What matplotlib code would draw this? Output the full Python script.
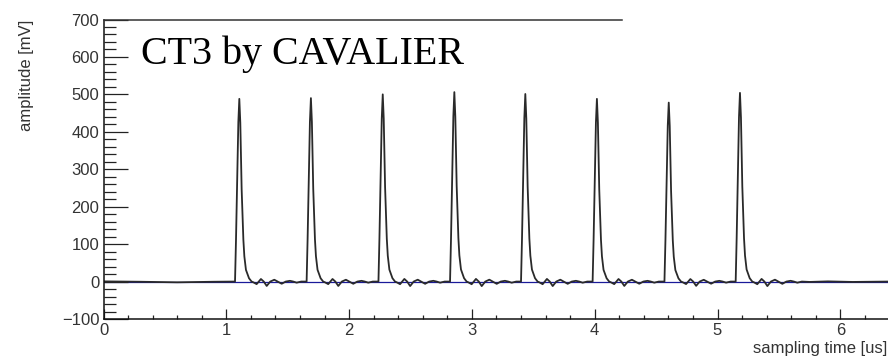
import numpy as np
import matplotlib
matplotlib.use("Agg")
import matplotlib.pyplot as plt
from matplotlib.ticker import MultipleLocator

# ---- data ----
pulse_times = [1.106, 1.689, 2.274, 2.857, 3.435, 4.018, 4.603, 5.183]   # us
pulse_peaks = [488, 490, 500, 506, 501, 488, 478, 504]                  # mV

# pulse shape (offset from peak in us, fraction of peak amplitude)
shape_offset = [-0.035, -0.027, -0.019, -0.008, 0.0, 0.008, 0.019, 0.033, 0.041,
                0.054, 0.079, 0.100, 0.114, 0.141, 0.159, 0.176, 0.199, 0.223,
                0.252, 0.285, 0.313, 0.345, 0.378, 0.412, 0.439, 0.467, 0.504]
shape_frac = [0.0, 0.229, 0.505, 0.872, 1.0, 0.87, 0.505, 0.229, 0.138,
              0.064, 0.018, 0.0, -0.004, -0.014, 0.0, 0.014, 0.0, -0.024,
              0.0, 0.010, 0.0, -0.012, 0.0, 0.004, 0.0, -0.006, 0.0]

lead_t = [0.0, 0.3, 0.6, 0.9]
lead_v = [0.5, -0.5, -2.0, -0.5]
tail_t = [5.75, 5.9, 6.1, 6.25, 6.39]
tail_v = [-1.0, 0.5, -1.0, -0.5, 0.0]

x_ticks = [0, 1, 2, 3, 4, 5, 6]
y_ticks = [-100, 0, 100, 200, 300, 400, 500, 600, 700]

# ---- assemble trace ----
t = list(lead_t)
v = list(lead_v)
for pt, pk in zip(pulse_times, pulse_peaks):
    for o, f in zip(shape_offset, shape_frac):
        t.append(pt + o)
        v.append(pk * f)
t += tail_t
v += tail_v

W, H = 888, 358
fig = plt.figure(figsize=(W / 100, H / 100), dpi=100)
x0 = 103.5
ax = fig.add_axes([x0 / W, (H - 319) / H, 1 - x0 / W, (319 - 19.5) / H])

ax.axhline(0, color="#1a1a9a", lw=0.9, zorder=1)
ax.plot(t, v, color="#2a2a2a", lw=1.3, zorder=2)

ax.set_xlim(0, (W - x0) / 122.8)
ax.set_ylim(-100, 700)
ax.set_xticks(x_ticks)
ax.set_yticks(y_ticks)
ax.xaxis.set_minor_locator(MultipleLocator(0.2))
ax.yaxis.set_minor_locator(MultipleLocator(20))

lab_font = dict(family=["Liberation Sans", "DejaVu Sans"], size=12)
ax.set_xticklabels([str(x) for x in x_ticks], **lab_font)
ax.set_yticklabels([str(y).replace("-", "\u2212") for y in y_ticks], **lab_font)

ax.tick_params(axis="y", which="major", direction="in", length=17.5, width=0.9,
               colors="#222222", labelcolor="#333333", pad=3)
ax.tick_params(axis="y", which="minor", direction="in", length=8.6, width=0.9,
               colors="#222222")
ax.tick_params(axis="x", which="major", direction="in", length=7.2, width=0.9,
               colors="#222222", labelcolor="#333333", pad=3)
ax.tick_params(axis="x", which="minor", direction="in", length=3.2, width=0.9,
               colors="#222222")

ax.spines["right"].set_visible(False)
ax.spines["top"].set_bounds(0, (622 - x0) / 122.8)
ax.spines["top"].set_color("#333333")
for s in ["left", "bottom", "top"]:
    ax.spines[s].set_linewidth(1.1)
ax.spines["left"].set_color("#111111")
ax.spines["bottom"].set_color("#111111")

ax.text((141 - x0) / 122.8, 582, "CT3 by CAVALIER",
        family=["Liberation Serif", "DejaVu Serif"], size=28.8,
        va="baseline", ha="left", color="black")

fig.text(27 / W, (H - 20) / H, "amplitude [mV]", rotation=90,
         ha="center", va="top", color="#333333", **lab_font)
fig.text(887 / W, (H - 348) / H, "sampling time [us]",
         ha="right", va="center", color="#333333", **lab_font)

fig.savefig("out.png", dpi=100)
